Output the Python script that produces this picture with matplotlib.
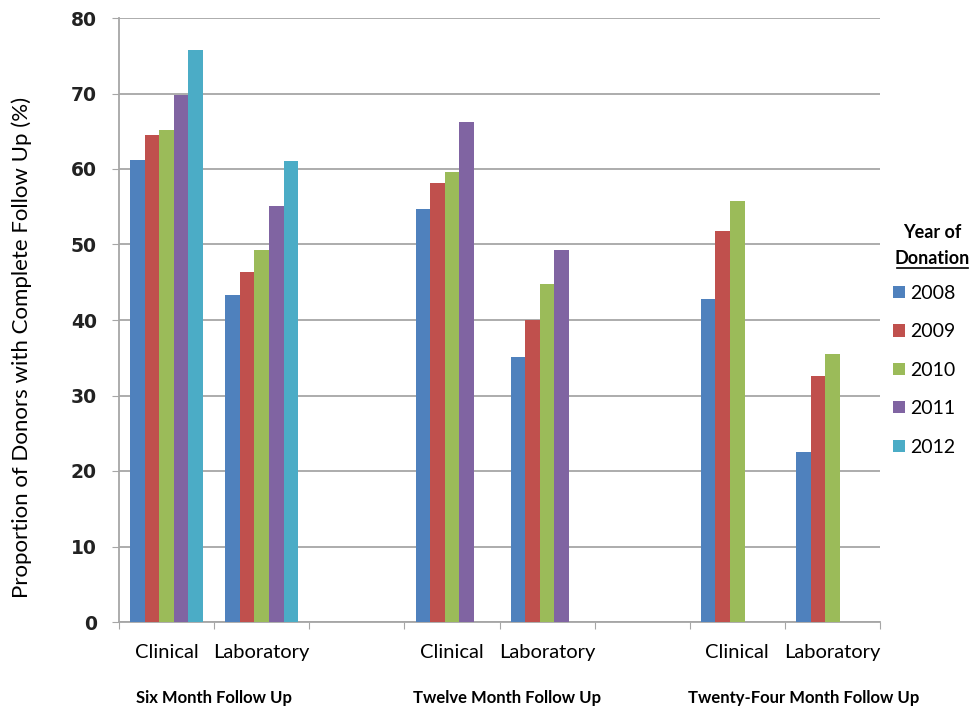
import matplotlib
matplotlib.use("Agg")
import matplotlib.pyplot as plt
import numpy as np
from matplotlib.lines import Line2D

# categories along x (blank slots separate the follow up periods)
categories = ["Clinical", "Laboratory", "", "Clinical", "Laboratory", "", "Clinical", "Laboratory"]
years = ["2008", "2009", "2010", "2011", "2012"]
colors = ["#4F81BD", "#C0504D", "#9BBB59", "#8064A2", "#4BACC6"]

nan = np.nan
v2008 = [61.2, 43.3, nan, 54.7, 35.1, nan, 42.8, 22.5]
v2009 = [64.5, 46.3, nan, 58.2, 40.0, nan, 51.8, 32.6]
v2010 = [65.1, 49.3, nan, 59.6, 44.8, nan, 55.8, 35.5]
v2011 = [69.8, 55.1, nan, 66.2, 49.3, nan, nan, nan]
v2012 = [75.8, 61.1, nan, nan, nan, nan, nan, nan]
series = [v2008, v2009, v2010, v2011, v2012]

groups = ["Six Month Follow Up", "Twelve Month Follow Up", "Twenty-Four Month Follow Up"]
group_pos = [0.5, 3.58, 6.7]

yticks = [0, 10, 20, 30, 40, 50, 60, 70, 80]

fig = plt.figure(figsize=(9.71, 7.06), dpi=100)
ax = fig.add_axes([119/971, 1-622/706, (880-119)/971, (622-18)/706])

x = np.arange(len(categories))
w = 0.153
bars = []
for i in range(len(years)):
    b = ax.bar(x + (i-2)*w, series[i], width=w, color=colors[i], label=years[i], zorder=3)
    bars.append(b)

ax.set_xlim(-0.5, len(categories)-0.5)
ax.set_ylim(0, 80)
ax.set_yticks(yticks)
ax.set_yticklabels([str(t) for t in yticks], fontsize=13.5, fontweight="bold",
                   family="DejaVu Sans", color="#222222")
ax.yaxis.grid(True, color="#A6A6A6", linewidth=1.3, zorder=0)

# boundary ticks without labels, category names on minor ticks
ax.set_xticks(np.arange(-0.5, len(categories), 1.0))
ax.set_xticklabels([])
ax.set_xticks(x, minor=True)
ax.set_xticklabels(categories, minor=True, fontsize=14.5, family="Lato")
ax.tick_params(axis="x", which="major", length=5, color="#A6A6A6", direction="out")
ax.tick_params(axis="x", which="minor", length=0, pad=16)
ax.tick_params(axis="y", length=5, color="#A6A6A6", pad=11)

for s in ["top", "right"]:
    ax.spines[s].set_visible(False)
for s in ["left", "bottom"]:
    ax.spines[s].set_color("#A6A6A6")
    ax.spines[s].set_linewidth(1.3)

for g, p in zip(groups, group_pos):
    ax.text(p, -0.125, g, transform=ax.get_xaxis_transform(), ha="center", va="center",
            fontsize=12, fontweight="bold", family="Lato")

fig.text(22/971, 1-347/706, "Proportion of Donors with Complete Follow Up (%)",
         rotation=90, ha="center", va="center", fontsize=16, family="Lato")

# legend title with underlined second line
fig.text(932/971, 1-233/706, "Year of", ha="center", va="center", fontsize=13,
         fontweight="bold", family="Lato")
fig.text(932/971, 1-258/706, "Donation", ha="center", va="center", fontsize=13,
         fontweight="bold", family="Lato")
fig.add_artist(Line2D([897/971, 968/971], [1-268/706, 1-268/706], color="black",
                      linewidth=1.2, transform=fig.transFigure))

leg = ax.legend(handles=bars, labels=years, loc="upper left",
                bbox_to_anchor=(893/971, 1-285/706), bbox_transform=fig.transFigure,
                frameon=False, prop={"family": "Lato", "size": 14},
                handlelength=0.6, handleheight=0.6, handletextpad=0.3,
                labelspacing=1.1, borderaxespad=0, borderpad=0)

fig.savefig("out.png", dpi=100)
